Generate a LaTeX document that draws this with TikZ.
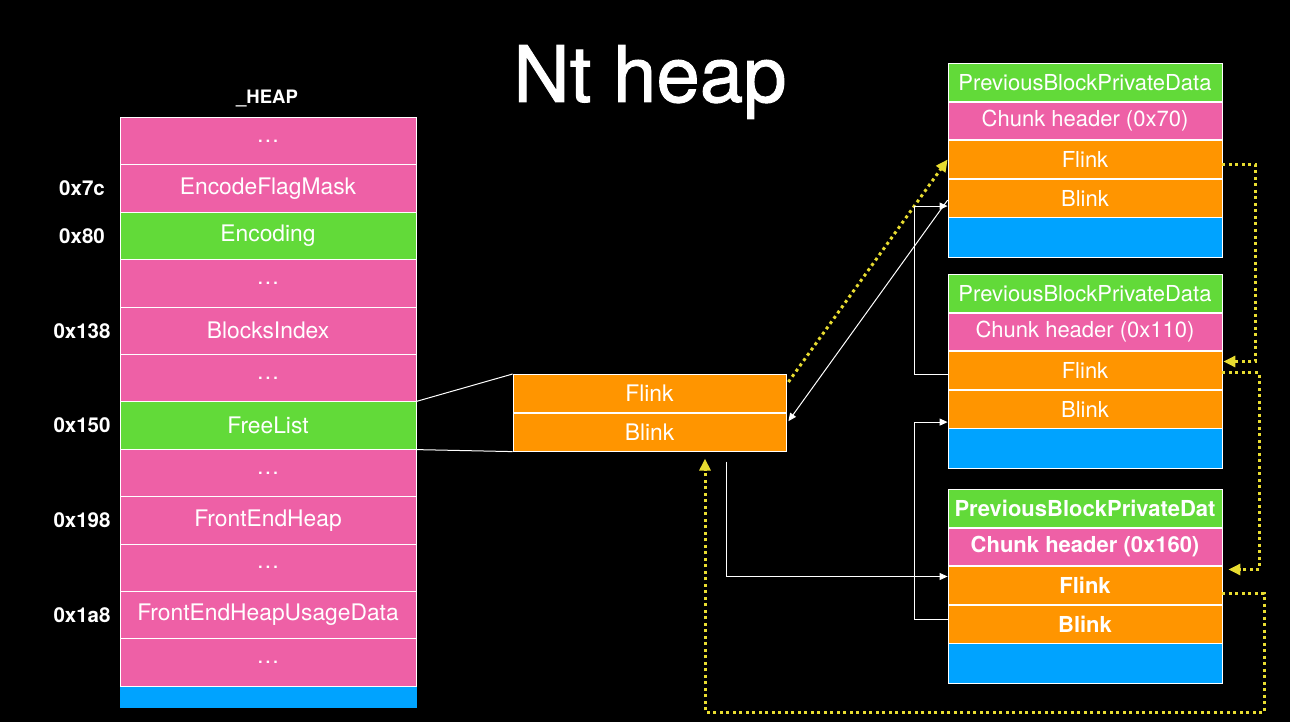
\documentclass[tikz,border=0pt]{standalone}
\usepackage{fontspec}
\setmainfont{TeX Gyre Heros}
\usetikzlibrary{positioning,arrows.meta,calc}
\definecolor{pinkc}{RGB}{238,96,166}
\definecolor{greenc}{RGB}{98,218,57}
\definecolor{orangec}{RGB}{255,149,0}
\definecolor{bluec}{RGB}{0,163,255}
\definecolor{dotyel}{RGB}{232,220,48}
\begin{document}
\begin{tikzpicture}[x=1pt,y=-1pt,
    heapcell/.style={draw=white,line width=0.8pt,text=white,inner sep=0pt,anchor=north,
        minimum width=296pt,minimum height=47.4pt,font=\fontsize{22.8}{26}\selectfont},
    chunkcell/.style={heapcell,minimum width=274pt,minimum height=37.8pt,font=\fontsize{22}{26}\selectfont},
    addr/.style={text=white,font=\fontsize{20.5}{24}\selectfont\bfseries},
    plain/.style={draw=white,line width=1pt},
    link/.style={plain,-{Triangle[length=8pt,width=7pt]}},
    ptr/.style={draw=dotyel,line width=3pt,dash pattern=on 3pt off 3.5pt,
        -{Triangle[length=12pt,width=11pt]}}]
        %background and page size
        \useasboundingbox[fill=black] (0,0) rectangle (1290,722);
        \node[text=white,anchor=base,font=\fontsize{78}{80}\selectfont\addfontfeature{FakeBold=1.2}] (title) at (650,102) {Nt heap};

        %the _HEAP structure
        \node[addr,font=\fontsize{18.5}{22}\selectfont\bfseries] (heapname) at (267,99) {\_HEAP};
        \foreach \txt/\col [count=\i from 0] in {\dots/pinkc,EncodeFlagMask/pinkc,Encoding/greenc,\dots/pinkc,
            BlocksIndex/pinkc,\dots/pinkc,FreeList/greenc,\dots/pinkc,FrontEndHeap/pinkc,\dots/pinkc,
            FrontEndHeapUsageData/pinkc,\dots/pinkc}
            \node[heapcell,fill=\col] (heap\i) at (268,117+47.4*\i) {\txt};
        \node[heapcell,fill=bluec,draw=bluec,minimum height=20pt] (heapend) at (268,687) {};
        \foreach \i/\a in {1/0x7c,2/0x80,4/0x138,6/0x150,8/0x198,10/0x1a8}
            \node[addr] (addr\i) at (82,0 |- heap\i) {\a};

        %the list head
        \node[heapcell,fill=orangec,minimum width=273pt,minimum height=38pt] (freeFlink) at (649.5,374) {Flink};
        \node[heapcell,fill=orangec,minimum width=273pt,minimum height=38pt,below=0pt of freeFlink] (freeBlink) {Blink};
        \draw[plain] (heap6.north east) -- (freeFlink.north west);
        \draw[plain] (heap6.south east) -- (freeBlink.south west);

        %the free chunks
        \foreach \top/\hdr/\pbd/\ft [count=\k] in {63/0x70/PreviousBlockPrivateData/\mdseries,
            274/0x110/PreviousBlockPrivateData/\mdseries,489/0x160/PreviousBlockPrivateDat/\bfseries}{
            \node[chunkcell,fill=greenc] (c\k-pbd) at (1085,\top) {\ft \pbd};
            \node[chunkcell,fill=pinkc,below=0pt of c\k-pbd] (c\k-hdr) {\ft Chunk header (\hdr)};
            \node[chunkcell,fill=orangec,below=0pt of c\k-hdr] (c\k-fl) {\ft Flink};
            \node[chunkcell,fill=orangec,below=0pt of c\k-fl] (c\k-bl) {\ft Blink};
            \node[chunkcell,fill=bluec,minimum height=40pt,below=0pt of c\k-bl] (c\k-pad) {};
        }

        %forward links
        \coordinate (loopbot) at (705,712);
        \draw[ptr] ([shift={(2,8)}]freeFlink.north east) -- (c1-fl.west);
        \draw[ptr] ([yshift=-5pt]c1-fl.east) -- ++(33,0) |- ([shift={(1,-9)}]c2-fl.east);
        \draw[ptr] ([yshift=-2pt]c2-fl.east) -- ++(37,0) |- ([shift={(6,-16)}]c3-fl.east);
        \draw[ptr,shorten >=7pt] ([yshift=-8pt]c3-fl.east) -- ++(42,0) |- (loopbot) -- (loopbot |- freeBlink.south);

        %backward links
        \draw[link] ([yshift=-2pt]c1-bl.west) -- ([shift={(2,-11)}]freeBlink.east);
        \draw[link] ([yshift=-4pt]c2-fl.west) -- ++(-33,0) |- ([yshift=-8pt]c1-bl.west);
        \draw[link] ([yshift=5pt]c3-bl.west) -- ++(-33,0) |- ([yshift=-13pt]c2-bl.west);
        \draw[link] ([shift={(77,10)}]freeBlink.south) |- ([yshift=9pt]c3-fl.west);
\end{tikzpicture}
\end{document}
